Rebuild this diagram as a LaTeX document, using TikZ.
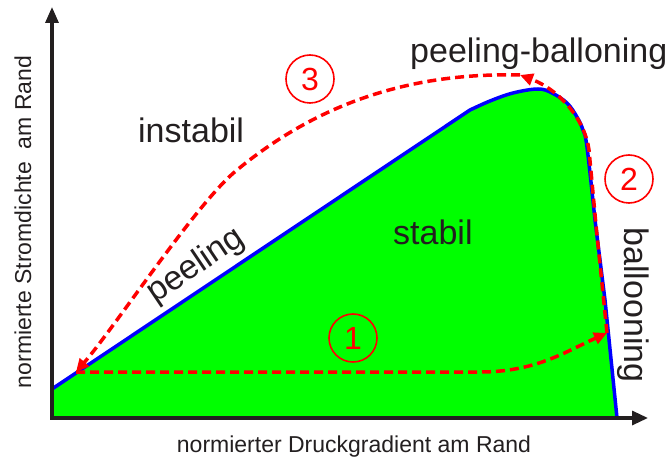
\documentclass[tikz,border=0pt]{standalone}
\usepackage{fontspec}
\setmainfont{Liberation Sans}
\usetikzlibrary{arrows.meta}
\definecolor{ink}{HTML}{231F20}
\definecolor{pgreen}{HTML}{00FF00}
\definecolor{pblue}{HTML}{0000FF}
\definecolor{pred}{HTML}{FF0000}
\begin{document}
\begin{tikzpicture}[x=1pt,y=-1pt,
  axisline/.style={ink, line width=3.2pt, {Triangle[length=16pt,width=13pt]}-{Triangle[length=16pt,width=14pt]}},
  bound/.style={pblue, line width=3.5pt, line join=round},
  redflow/.style={pred, line width=3.5pt, dash pattern=on 9pt off 5pt, -{Triangle[length=13pt,width=12pt]}},
  big/.style={text=ink, font=\fontsize{34}{40}\selectfont, inner sep=0pt},
  axlabel/.style={text=ink, font=\fontsize{23}{28}\selectfont, inner sep=0pt},
  num/.style={circle, draw=pred, line width=1.6pt, text=pred, minimum size=48pt, inner sep=0pt, font=\fontsize{32}{36}\selectfont}]
\useasboundingbox (0,0) rectangle (670,457);

% coordinates
\coordinate (O) at (52,418);
\coordinate (ytip) at (52,7);
\coordinate (xtip) at (648,418);
\coordinate (A) at (76,372);
\coordinate (B) at (607,333);
\coordinate (C) at (520,75);
\coordinate (M) at (237,170);

% stable region
\fill[pgreen] (52,418) -- (52,389) -- (470,110) -- plot[smooth,tension=0.6] coordinates {(470,110) (490,101) (513,93) (538,89) (552,93) (567,103) (577,117) (583,130) (587,147) (595,220)} -- (605,300) -- (617,418) -- cycle;
\draw[bound] (52,389) -- (470,110) -- plot[smooth,tension=0.6] coordinates {(470,110) (490,101) (513,93) (538,89) (552,93) (567,103) (577,117) (583,130) (587,147) (595,220)} -- (605,300) -- (617,418);

% red paths
\draw[redflow] (A) -- (480,372) .. controls (535,372) and (565,352) .. (B);
\draw[redflow] (B) -- (596,225) -- (589,150) .. controls (585,120) and (560,90) .. (C);
\draw[redflow] (C) .. controls (400,72) and (310,110) .. (M) .. controls (198,201) and (115,327) .. (A);

% axes
\draw[axisline] (ytip) -- (O) -- (xtip);

% texts
\node[big, anchor=base west] (pb) at (410,63) {peeling-balloning};
\node[big, anchor=base west] (inst) at (138,143) {instabil};
\node[big, anchor=base west] (stab) at (393,245) {stabil};
\node[big, rotate=34] (peel) at (196,266) {peeling};
\node[big, rotate=-90] (ball) at (633,305) {ballooning};
\node[axlabel, anchor=base] (xl) at (354,452) {normierter Druckgradient am Rand};
\node[axlabel, rotate=90] (yl) at (23,222) {normierte Stromdichte\ \ am Rand};

% numbers
\node[num] (n1) at (353,338) {1};
\node[num] (n2) at (629,179) {2};
\node[num] (n3) at (310,79) {3};
\end{tikzpicture}
\end{document}
